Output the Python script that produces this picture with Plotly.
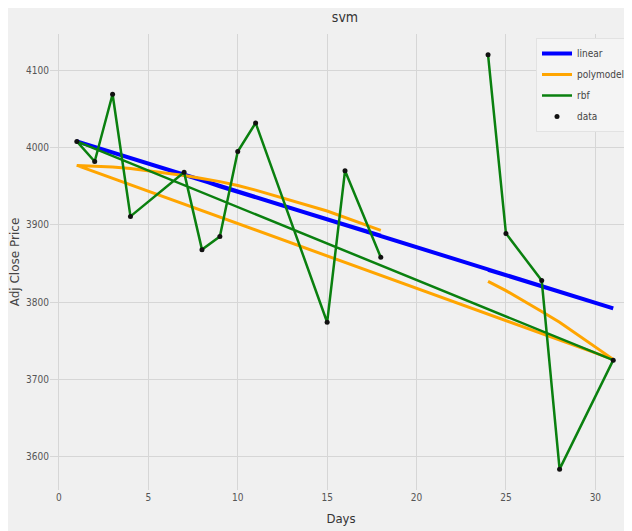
import plotly.graph_objects as go

# Days in the order the source data was stored (month end first, then next month)
days = [24, 25, 27, 28, 31, 1, 2, 3, 4, 7, 8, 9, 10, 11, 15, 16, 18]
prices = [4120, 3889, 3828, 3584, 3725, 4008, 3982, 4069, 3911, 3968, 3868, 3885, 3995, 4032, 3774, 3970, 3858]

# Model predictions
linear_pred = [3842, 3835, 3821, 3814, 3792, 4008, 4001, 3994, 3986, 3965, 3958, 3950, 3943, 3936, 3907, 3900, 3886]
poly_pred = [3827, 3815, 3788, 3774, 3726, 3977, 3976, 3975, 3973, 3964, 3960, 3956, 3951, 3945, 3918, 3910, 3893]
rbf_pred = [4120, 3889, 3828, 3584, 3725, 4008, 3982, 4069, 3911, 3968, 3868, 3885, 3995, 4032, 3774, 3970, 3858]

x_ticks = [0, 5, 10, 15, 20, 25, 30]
y_ticks = [3600, 3700, 3800, 3900, 4000, 4100]

narrow = "Liberation Sans Narrow, DejaVu Sans Condensed, Arial Narrow, Liberation Sans, sans-serif"

fig = go.Figure()
fig.add_trace(go.Scatter(x=days, y=linear_pred, mode="lines", name="linear", legendgroup="linear",
                         line=dict(color="#0000ff", width=4)))
fig.add_trace(go.Scatter(x=days, y=poly_pred, mode="lines", name="polymodel", legendgroup="poly",
                         line=dict(color="#ffa500", width=3)))
fig.add_trace(go.Scatter(x=days, y=rbf_pred, mode="lines", name="rbf", legendgroup="rbf",
                         line=dict(color="#0a800f", width=2.5)))
fig.add_trace(go.Scatter(x=days, y=prices, mode="markers", name="data", legendgroup="data",
                         marker=dict(color="#111111", size=5)))

# page body adds an 8px offset; figure coordinates = reference pixels - 8
OFF = 8
W, H = 624, 523
L, R, T, B = 42, 0, 26, 41
pw, ph = W - L - R, H - T - B

def px_x(p):
    return (p - OFF - L) / pw

def px_y(p):
    return (H - B - (p - OFF)) / ph

fig.update_layout(
    width=W, height=H, autosize=False,
    margin=dict(l=L, r=R, t=T, b=B, autoexpand=False),
    paper_bgcolor="#f0f0f0", plot_bgcolor="#f0f0f0",
    title=dict(text="svm", x=px_x(345), xanchor="center", y=1 - (17 - OFF) / H, yanchor="middle",
               xref="paper", yref="container", automargin=False,
               font=dict(family=narrow, size=14, color="#333333")),
    xaxis=dict(range=[-0.5, 32.05], tickvals=x_ticks, showgrid=True, gridcolor="#d6d6d6",
               gridwidth=1, zeroline=False, showline=False, ticks="", automargin=False,
               tickfont=dict(family=narrow, size=10, color="#555555"),
               title=dict(text="Days", standoff=11, font=dict(family=narrow, size=13, color="#333333"))),
    yaxis=dict(range=[3557, 4147], tickvals=y_ticks, showgrid=True, gridcolor="#d6d6d6",
               gridwidth=1, zeroline=False, showline=False, ticks="", automargin=False,
               tickfont=dict(family=narrow, size=10, color="#555555"),
               title=dict(text="Adj Close Price", standoff=5,
                          font=dict(family="DejaVu Sans, sans-serif", size=12, color="#444444"))),
    legend=dict(x=px_x(536), y=px_y(38), xanchor="left", yanchor="top",
                bgcolor="#f4f4f4", bordercolor="#e2e2e2", borderwidth=1,
                font=dict(family=narrow, size=10, color="#444444"),
                itemwidth=30, tracegroupgap=2),
    showlegend=True,
)

fig.write_html("out.html")
